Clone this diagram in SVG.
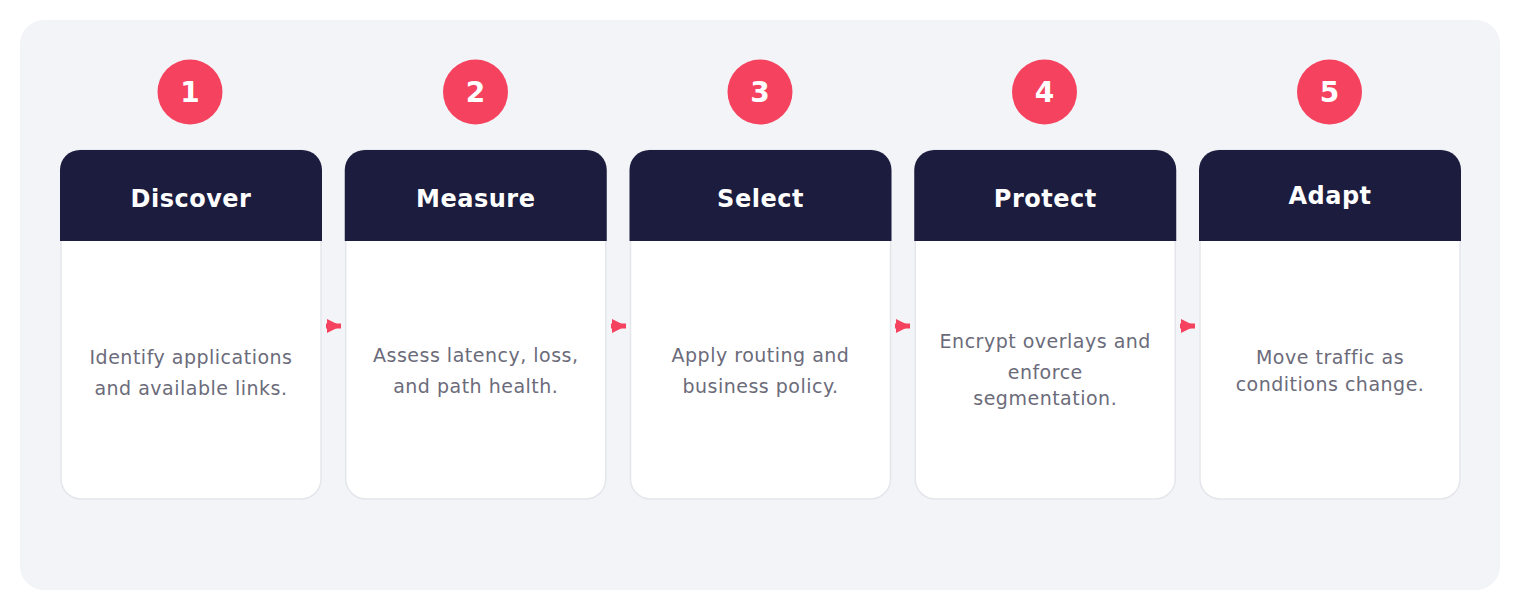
<svg xmlns="http://www.w3.org/2000/svg" width="1520" height="610" viewBox="0 0 1520 610">
  <style>
    .bg { fill: #f3f4f8; }
    .body { fill: #ffffff; stroke: #e4e6eb; stroke-width: 1.5; }
    .head { fill: #1c1c3e; }
    .badge { fill: #f5435f; }
    .num { font-family: "DejaVu Sans", sans-serif; font-weight: bold; font-size: 28px; fill: #ffffff; text-anchor: middle; }
    .title { font-family: "DejaVu Sans", sans-serif; font-weight: bold; font-size: 24px; letter-spacing: 0.5px; fill: #ffffff; text-anchor: middle; }
    .desc { font-family: "DejaVu Sans", sans-serif; font-size: 19px; letter-spacing: 0.5px; fill: #6b6b7a; text-anchor: middle; }
    .conn { stroke: #f5435f; stroke-width: 5; fill: none; }
  </style>
  <defs>
    <marker id="arrow" viewBox="0 0 10 10" refX="10" refY="5" markerWidth="14" markerHeight="20" markerUnits="userSpaceOnUse" orient="auto">
      <path d="M0,0 L10,5 L0,10 z" fill="#f5435f"/>
    </marker>
  </defs>

  <rect class="bg" x="20" y="20" width="1480" height="570" rx="24"/>

  <g id="connectors">
    <path class="conn" d="M326,326 L341,326" marker-end="url(#arrow)"/>
    <path class="conn" d="M611,326 L626,326" marker-end="url(#arrow)"/>
    <path class="conn" d="M895,326 L910,326" marker-end="url(#arrow)"/>
    <path class="conn" d="M1180,326 L1195,326" marker-end="url(#arrow)"/>
  </g>

  <g id="step1">
    <circle class="badge" cx="190" cy="92" r="32.5"/>
    <text class="num" x="190" y="102">1</text>
    <rect class="body" x="61" y="150" width="260" height="349" rx="20"/>
    <path class="head" d="M60,241 V170 A20,20 0 0 1 80,150 H302 A20,20 0 0 1 322,170 V241 Z"/>
    <text class="title" x="191" y="207">Discover</text>
    <text class="desc" x="191" y="364">Identify applications</text>
    <text class="desc" x="191" y="395">and available links.</text>
  </g>

  <g id="step2">
    <circle class="badge" cx="475.5" cy="92" r="32.5"/>
    <text class="num" x="475.5" y="102">2</text>
    <rect class="body" x="345.75" y="150" width="260" height="349" rx="20"/>
    <path class="head" d="M344.75,241 V170 A20,20 0 0 1 364.75,150 H586.75 A20,20 0 0 1 606.75,170 V241 Z"/>
    <text class="title" x="475.75" y="207">Measure</text>
    <text class="desc" x="475.75" y="362">Assess latency, loss,</text>
    <text class="desc" x="475.75" y="393">and path health.</text>
  </g>

  <g id="step3">
    <circle class="badge" cx="760" cy="92" r="32.5"/>
    <text class="num" x="760" y="102">3</text>
    <rect class="body" x="630.5" y="150" width="260" height="349" rx="20"/>
    <path class="head" d="M629.5,241 V170 A20,20 0 0 1 649.5,150 H871.5 A20,20 0 0 1 891.5,170 V241 Z"/>
    <text class="title" x="760.5" y="207">Select</text>
    <text class="desc" x="760.5" y="362">Apply routing and</text>
    <text class="desc" x="760.5" y="393">business policy.</text>
  </g>

  <g id="step4">
    <circle class="badge" cx="1044.5" cy="92" r="32.5"/>
    <text class="num" x="1044.5" y="102">4</text>
    <rect class="body" x="915.25" y="150" width="260" height="349" rx="20"/>
    <path class="head" d="M914.25,241 V170 A20,20 0 0 1 934.25,150 H1156.25 A20,20 0 0 1 1176.25,170 V241 Z"/>
    <text class="title" x="1045.25" y="207">Protect</text>
    <text class="desc" x="1045.25" y="348">Encrypt overlays and</text>
    <text class="desc" x="1045.25" y="379">enforce</text>
    <text class="desc" x="1045.25" y="405">segmentation.</text>
  </g>

  <g id="step5">
    <circle class="badge" cx="1329.5" cy="92" r="32.5"/>
    <text class="num" x="1329.5" y="102">5</text>
    <rect class="body" x="1200" y="150" width="260" height="349" rx="20"/>
    <path class="head" d="M1199,241 V170 A20,20 0 0 1 1219,150 H1441 A20,20 0 0 1 1461,170 V241 Z"/>
    <text class="title" x="1330" y="204">Adapt</text>
    <text class="desc" x="1330" y="364">Move traffic as</text>
    <text class="desc" x="1330" y="391">conditions change.</text>
  </g>
</svg>
